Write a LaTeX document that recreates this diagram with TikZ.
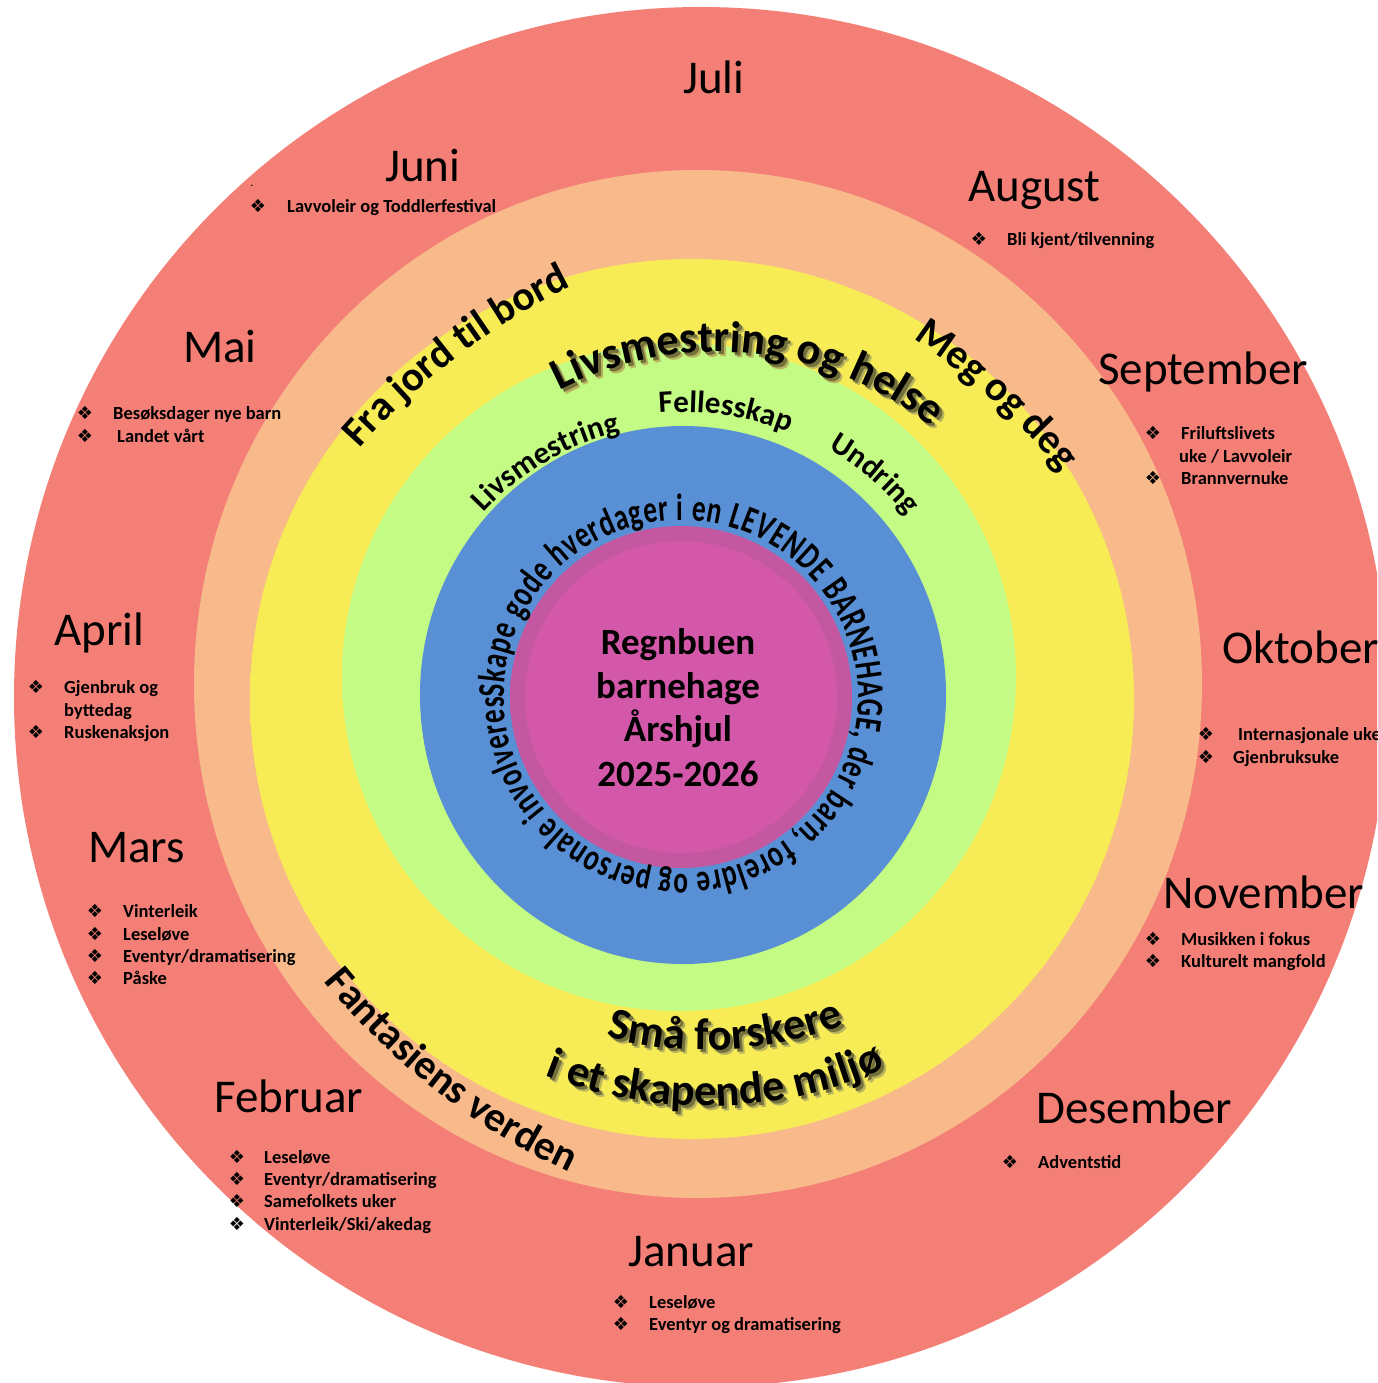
\documentclass[tikz,border=0pt]{standalone}
\usepackage{fontspec}
\setmainfont{Carlito}
\newfontfamily\dejavu{DejaVu Sans}
\newfontfamily\condfont{Carlito}[FakeStretch=0.72]
\usetikzlibrary{decorations.text}
\definecolor{ringred}{RGB}{244,127,118}
\definecolor{ringorange}{RGB}{248,186,138}
\definecolor{ringyellow}{RGB}{247,236,86}
\definecolor{ringgreenv}{RGB}{165,241,95}
\definecolor{ringgreen}{RGB}{196,251,132}
\definecolor{ringblue}{RGB}{88,143,213}
\definecolor{ringpinko}{RGB}{196,88,160}
\definecolor{ringpinki}{RGB}{212,88,170}
\definecolor{shadowdk}{RGB}{115,112,60}
\definecolor{shadowlt}{RGB}{185,180,95}
\pgfdeclareradialshading{shred}{\pgfpoint{0bp}{0bp}}{color(0bp)=(ringred); color(49.4bp)=(ringred); color(50bp)=(white)}
\pgfdeclareradialshading{shorange}{\pgfpoint{0bp}{0bp}}{color(0bp)=(ringorange); color(47.62bp)=(ringorange); color(50bp)=(ringred)}
\pgfdeclareradialshading{shyellow}{\pgfpoint{0bp}{0bp}}{color(0bp)=(ringyellow); color(47.74bp)=(ringyellow); color(50bp)=(ringorange)}
\pgfdeclareradialshading{shgreen}{\pgfpoint{0bp}{0bp}}{color(0bp)=(ringgreen); color(44.67bp)=(ringgreen); color(48.07bp)=(ringgreenv); color(50bp)=(ringyellow)}
\pgfdeclareradialshading{shblue}{\pgfpoint{0bp}{0bp}}{color(0bp)=(ringblue); color(46.19bp)=(ringblue); color(50bp)=(ringgreen)}
\pgfdeclareradialshading{shpinko}{\pgfpoint{0bp}{0bp}}{color(0bp)=(ringpinko); color(45.3bp)=(ringpinko); color(50bp)=(ringblue)}
\pgfdeclareradialshading{shpinki}{\pgfpoint{0bp}{0bp}}{color(0bp)=(ringpinki); color(44.9bp)=(ringpinki); color(50bp)=(ringpinko)}
\newcommand\monthfont{\fontsize{47}{56}\selectfont}
\newcommand\itemfont{\fontsize{18.5}{22}\selectfont\bfseries}
\newcommand\centerfont{\fontsize{37}{44}\selectfont\bfseries}
\newcommand\bigarcfont{\fontsize{44.5}{50}\selectfont\bfseries}
\newcommand\midarcfont{\fontsize{41.5}{50}\selectfont\bfseries}
\newcommand\greenfont{\fontsize{31}{36}\selectfont\bfseries}
\newcommand\bluefont{\condfont\fontsize{38}{44}\selectfont\bfseries}
% #1 colour, #2 cx, #3 cy (image px), #4 radius, #5 start, #6 end, #7 font, #8 text
\newcommand\arctext[8][black]{%
  \path[decorate,decoration={text along path,text color=#1,text align=center,text={|#7|#8}}]
    ({#2+#4*cos(#5)},{-#3+#4*sin(#5)}) arc[start angle=#5,end angle=#6,radius=#4];}
% #1 name, #2 bullet x, #3 text x, #4 line centre y, #5 text
\newcommand\bitem[5]{%
  \node[bul] (#1b) at (#2,-#4) {❖};
  \node[item] (#1) at (#3,{-#4-6}) {#5};}
\tikzset{
  month/.style={anchor=base west,inner sep=0pt,font=\monthfont},
  item/.style={anchor=base west,inner sep=0pt,font=\itemfont},
  bul/.style={inner sep=0pt,font=\dejavu\fontsize{18}{18}\selectfont},
  ctext/.style={anchor=base,inner sep=0pt,font=\centerfont},
}
\begin{document}
\begin{tikzpicture}[x=1pt,y=1pt]
\useasboundingbox (0,0) rectangle (1377,-1383);
\fill[white] (0,0) rectangle (1377,-1383);
\clip (0,0) rectangle (1377,-1383);
% rings
\shade[shading=shred] (701,-697) ellipse [x radius=687,y radius=690];
\shade[shading=shorange] (698,-684) ellipse [x radius=504,y radius=514];
\shade[shading=shyellow] (692,-699) ellipse [x radius=442,y radius=440];
\shade[shading=shgreen] (679,-677) ellipse [x radius=337,y radius=334];
\shade[shading=shblue] (683,-695) ellipse [x radius=263,y radius=269];
\shade[shading=shpinko] (681,-697) circle (171);
\shade[shading=shpinki] (681,-697) circle (156);
% centre
\node[ctext] (c1) at (678,-654) {Regnbuen};
\node[ctext] (c2) at (678,-698) {barnehage};
\node[ctext] (c3) at (678,-741) {Årshjul};
\node[ctext] (c4) at (678,-786) {2025-2026};
% blue ring text
\path[decorate,decoration={text along path,text align=fit to path,
  text={|\bluefont|Skape gode hverdager i en LEVENDE BARNEHAGE, der barn, foreldre og personale involveres}}]
  (504,-697) arc[start angle=180,end angle=-180,radius=177];
% green ring words
\arctext{683}{697}{272}{140.25}{100.25}{\greenfont}{Livsmestring}
\arctext{683}{697}{285}{98}{65}{\greenfont}{Fellesskap}
\arctext{683}{697}{288}{62}{36.7}{\greenfont}{Undring}
% big arc texts
\arctext[shadowlt]{722}{701}{344}{122}{46.8}{\bigarcfont}{Livsmestring og helse}
\arctext[shadowdk]{720}{699}{344}{122}{46.8}{\bigarcfont}{Livsmestring og helse}
\arctext{717}{696}{344}{122}{46.8}{\bigarcfont}{Livsmestring og helse}
\arctext{882.5}{913}{700}{140}{114.8}{\midarcfont}{Fra jord til bord}
\arctext{524.7}{921.2}{700}{59}{37.2}{\midarcfont}{Meg og deg}
\arctext{865.8}{538.4}{700}{217.5}{246.7}{\midarcfont}{Fantasiens verden}
\arctext[shadowlt]{712}{667}{388}{252}{293.8}{\bigarcfont}{Små forskere}
\arctext[shadowdk]{710}{665}{388}{252}{293.8}{\bigarcfont}{Små forskere}
\arctext{707}{662}{388}{252}{293.8}{\bigarcfont}{Små forskere}
\arctext[shadowlt]{712}{667}{444}{246}{296.2}{\bigarcfont}{i et skapende miljø}
\arctext[shadowdk]{710}{665}{444}{246}{296.2}{\bigarcfont}{i et skapende miljø}
\arctext{707}{662}{444}{246}{296.2}{\bigarcfont}{i et skapende miljø}
% months
\node[month] (juli) at (683,-94) {Juli};
\node[month] (juni) at (385,-182) {Juni};
\node[month] (aug) at (968,-201) {August};
\node[month] (sep) at (1098,-384) {September};
\node[month] (mai) at (183,-362) {Mai};
\node[month] (apr) at (54,-645) {April};
\node[month] (okt) at (1222,-663) {Oktober};
\node[month] (mar) at (88,-862) {Mars};
\node[month] (nov) at (1163,-908) {November};
\node[month] (feb) at (214,-1112) {Februar};
\node[month] (des) at (1036,-1123) {Desember};
\node[month] (jan) at (628,-1266) {Januar};
% items
\node[inner sep=0pt,font=\fontsize{12}{12}\selectfont] (dot) at (252,-186) {.};
\bitem{juni1}{258}{287}{206}{Lavvoleir og Toddlerfestival}
\bitem{aug1}{979}{1007}{239}{Bli kjent/tilvenning}
\bitem{sep1}{1153}{1181}{433}{Friluftslivets}
\node[item] (sep1x) at (1179,-462) {uke / Lavvoleir};
\bitem{sep2}{1153}{1181}{478}{Brannvernuke}
\bitem{mai1}{85}{113}{413}{Besøksdager nye barn}
\bitem{mai2}{85}{117}{436}{Landet vårt}
\bitem{apr1}{36}{64}{687}{Gjenbruk og}
\node[item] (apr1x) at (64,-716) {byttedag};
\bitem{apr2}{36}{64}{732}{Ruskenaksjon}
\bitem{okt1}{1206}{1238}{734}{Internasjonale uke}
\bitem{okt2}{1206}{1233}{757}{Gjenbruksuke}
\bitem{mar1}{95}{123}{911}{Vinterleik}
\bitem{mar2}{95}{123}{934}{Leseløve}
\bitem{mar3}{95}{123}{956}{Eventyr/dramatisering}
\bitem{mar4}{95}{123}{978}{Påske}
\bitem{nov1}{1153}{1181}{939}{Musikken i fokus}
\bitem{nov2}{1153}{1181}{961}{Kulturelt mangfold}
\bitem{feb1}{237}{264}{1157}{Leseløve}
\bitem{feb2}{237}{264}{1179}{Eventyr/dramatisering}
\bitem{feb3}{237}{264}{1201}{Samefolkets uker}
\bitem{feb4}{237}{264}{1224}{Vinterleik/Ski/akedag}
\bitem{des1}{1010}{1038}{1162}{Adventstid}
\bitem{jan1}{621}{649}{1302}{Leseløve}
\bitem{jan2}{621}{649}{1324}{Eventyr og dramatisering}
\end{tikzpicture}
\end{document}
